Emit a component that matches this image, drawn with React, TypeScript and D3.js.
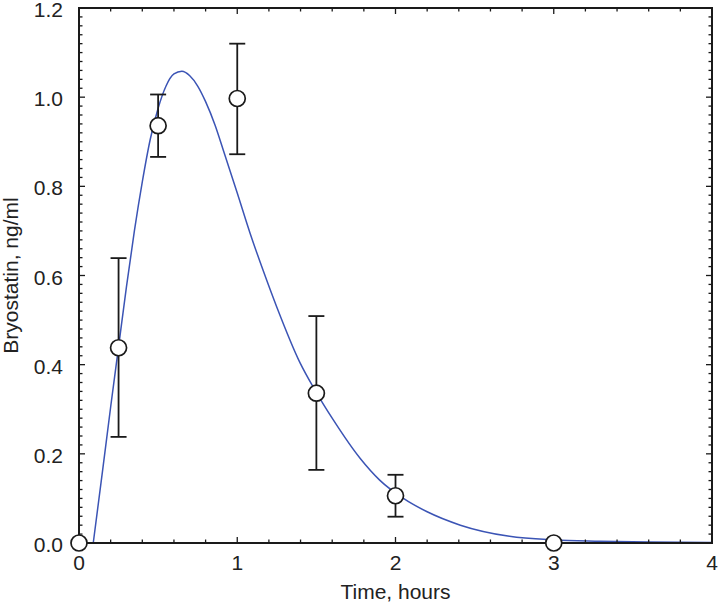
import React from "react";
import * as d3 from "d3";

const pointTimes = [0, 0.25, 0.5, 1.0, 1.5, 2.0, 3.0];
const pointMeans = [0, 0.438, 0.936, 0.997, 0.336, 0.106, 0.0];
const errLow = [null, 0.238, 0.866, 0.872, 0.164, 0.059, null];
const errHigh = [null, 0.639, 1.006, 1.12, 0.509, 0.153, null];

const fitTimes = [0.09, 0.15, 0.2, 0.25, 0.3, 0.35, 0.4, 0.45, 0.5, 0.55, 0.6, 0.65, 0.7, 0.75, 0.8, 0.86, 0.912, 1.0, 1.081, 1.165, 1.249, 1.397, 1.491, 1.607, 1.776, 1.9, 2.05, 2.2, 2.41, 2.72, 3.0, 3.29, 3.6, 4.0];
const fitValues = [0, 0.165, 0.305, 0.44, 0.575, 0.7, 0.81, 0.905, 0.975, 1.025, 1.052, 1.058, 1.048, 1.025, 0.99, 0.937, 0.881, 0.785, 0.695, 0.61, 0.53, 0.404, 0.343, 0.276, 0.19, 0.141, 0.1, 0.07, 0.04, 0.015, 0.007, 0.004, 0.002, 0.001];

const xTicks = [0, 1, 2, 3, 4];
const yTicks = [0, 0.2, 0.4, 0.6, 0.8, 1.0, 1.2];

export default function App() {
  const W = 718, H = 603;
  const left = 79, right = 712, top = 8, bottom = 543;
  const x = d3.scaleLinear().domain([0, 4]).range([left, right]);
  const y = d3.scaleLinear().domain([0, 1.2]).range([bottom, top]);
  const font = "'Liberation Sans', Arial, Helvetica, sans-serif";

  const xMinor = d3.range(0, 4.0001, 0.2).map((v) => +v.toFixed(2));
  const yMinor = d3.range(0, 1.2001, 0.02).map((v) => +v.toFixed(2));
  const isMajorX = (v: number) => Math.abs(v - Math.round(v)) < 1e-6;
  const isMajorY = (v: number) => Math.abs(v * 5 - Math.round(v * 5)) < 1e-6;

  const line = d3
    .line<number>()
    .x((_, i) => x(fitTimes[i]))
    .y((d) => y(d))
    .curve(d3.curveMonotoneX);

  const axisColor = "#1a1a1a";

  return (
    <div style={{ position: "fixed", left: 0, top: 0 }}>
      <svg width={W} height={H} style={{ display: "block", background: "#fff" }}>
        {/* fit curve */}
        <path d={line(fitValues) || ""} fill="none" stroke="#3b54b5" strokeWidth={1.5} />

        {/* frame */}
        <rect x={left} y={top} width={right - left} height={bottom - top} fill="none" stroke={axisColor} strokeWidth={2} />

        {/* x ticks bottom & top */}
        {xMinor.map((v, i) => {
          const len = isMajorX(v) ? 6 : 3.5;
          return (
            <g key={"xt" + i}>
              <line x1={x(v)} x2={x(v)} y1={bottom} y2={bottom - len} stroke={axisColor} strokeWidth={1.3} />
              <line x1={x(v)} x2={x(v)} y1={top} y2={top + len} stroke={axisColor} strokeWidth={1.3} />
            </g>
          );
        })}
        {/* y ticks left & right */}
        {yMinor.map((v, i) => {
          const len = isMajorY(v) ? 6 : 3.5;
          return (
            <g key={"yt" + i}>
              <line x1={left} x2={left + len} y1={y(v)} y2={y(v)} stroke={axisColor} strokeWidth={1.3} />
              <line x1={right} x2={right - len} y1={y(v)} y2={y(v)} stroke={axisColor} strokeWidth={1.3} />
            </g>
          );
        })}

        {/* tick labels */}
        {xTicks.map((v) => (
          <text key={"xl" + v} x={x(v)} y={570} textAnchor="middle" fontFamily={font} fontSize={21} fill="#222">
            {String(v)}
          </text>
        ))}
        {yTicks.map((v) => (
          <text key={"yl" + v} x={63} y={y(v)} dy="0.43em" textAnchor="end" fontFamily={font} fontSize={21} fill="#222">
            {v.toFixed(1)}
          </text>
        ))}

        {/* axis titles */}
        <text x={(left + right) / 2} y={599} textAnchor="middle" fontFamily={font} fontSize={21} fill="#222">
          Time, hours
        </text>
        <text transform={`translate(18,${(top + bottom) / 2}) rotate(-90)`} textAnchor="middle" fontFamily={font} fontSize={21} fill="#222">
          Bryostatin, ng/ml
        </text>

        {/* error bars */}
        {pointTimes.map((t, i) => {
          const lo = errLow[i];
          const hi = errHigh[i];
          if (lo == null || hi == null) return null;
          const cx = x(t);
          return (
            <g key={"eb" + i} stroke={axisColor} strokeWidth={1.8}>
              <line x1={cx} x2={cx} y1={y(lo)} y2={y(hi)} />
              <line x1={cx - 8} x2={cx + 8} y1={y(lo)} y2={y(lo)} />
              <line x1={cx - 8} x2={cx + 8} y1={y(hi)} y2={y(hi)} />
            </g>
          );
        })}

        {/* points */}
        {pointTimes.map((t, i) => (
          <circle key={"pt" + i} cx={x(t)} cy={y(pointMeans[i])} r={8} fill="#fff" stroke={axisColor} strokeWidth={1.7} />
        ))}
      </svg>
    </div>
  );
}
